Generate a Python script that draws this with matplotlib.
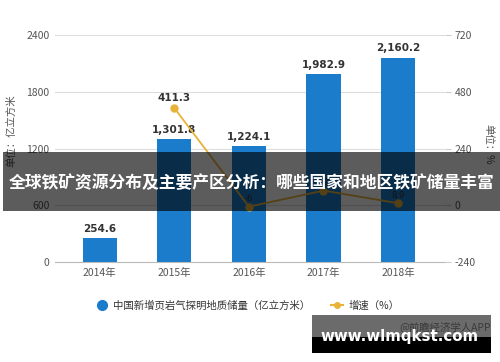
import matplotlib
matplotlib.use("Agg")
import matplotlib.pyplot as plt
from matplotlib.patches import Rectangle
from matplotlib.lines import Line2D

plt.rcParams['font.family'] = ['Noto Sans CJK SC', 'DejaVu Sans']

years = ["2014年", "2015年", "2016年", "2017年", "2018年"]
reserves = [254.6, 1301.8, 1224.1, 1982.9, 2160.2]
reserve_labels = ["254.6", "1,301.8", "1,224.1", "1,982.9", "2,160.2"]
growth_years = [1, 2, 3, 4]
growth = [411.3, -6.0, 62.0, 8.9]
growth_labels = ["411.3", "-6", "62", "8.9"]
left_ticks = [0, 600, 1200, 1800, 2400]
right_ticks = [-240, 0, 240, 480, 720]

bar_color = "#1a7ccb"
line_color = "#e8b339"
text_color = "#333333"
tick_color = "#555555"

fig = plt.figure(figsize=(5.0, 3.62), dpi=100)
ax = fig.add_axes([0.11, 0.2762, 0.78, 0.6271])
ax2 = ax.twinx()

x = list(range(len(years)))
ax.bar(x, reserves, width=0.46, color=bar_color, zorder=2)
ax.set_xlim(-0.6, 4.63)
ax.set_ylim(0, 2400)
ax.set_yticks(left_ticks)
ax.set_yticklabels([str(v) for v in left_ticks])
ax.set_xticks(x)
ax.set_xticklabels(years)
ax.grid(axis='y', color='#dddddd', linewidth=0.8, zorder=0)
ax.set_axisbelow(True)
for s in ['top', 'right', 'left']:
    ax.spines[s].set_visible(False)
ax.spines['bottom'].set_color('#bbbbbb')
ax.tick_params(axis='y', length=0, pad=4, labelsize=7.5, labelcolor=tick_color)
ax.tick_params(axis='x', length=0, pad=4, labelsize=7.5, labelcolor=tick_color)

for xi, v, lab in zip(x, reserves, reserve_labels):
    ax.text(xi, v + 45, lab, ha='center', va='bottom', fontsize=7.5,
            fontweight='bold', color=text_color, family=['DejaVu Sans'])

ax2.plot(growth_years, growth, color=line_color, linewidth=1.3, marker='o',
         markersize=5, zorder=3)
ax2.set_ylim(-240, 720)
ax2.set_yticks(right_ticks)
ax2.set_yticklabels([str(v) for v in right_ticks])
for s in ['top', 'right', 'left', 'bottom']:
    ax2.spines[s].set_visible(False)
ax2.tick_params(axis='y', length=4, color='#cccccc', pad=3, labelsize=7.5,
                labelcolor=tick_color)
ax2.text(growth_years[0], growth[0] + 22, growth_labels[0], ha='center',
         va='bottom', fontsize=7.5, fontweight='bold', color=text_color,
         family=['DejaVu Sans'])
for gx, gv, gl in zip(growth_years[1:], growth[1:], growth_labels[1:]):
    ax2.text(gx, gv + 14, gl, ha='center', va='bottom', fontsize=6,
             color=text_color, family=['DejaVu Sans'])

fig.text(0.022, 0.64, "单位：亿立方米", rotation=90, ha='center', va='center',
         fontsize=7.5, color=tick_color)
fig.text(0.976, 0.60, "单位：%", rotation=-90, ha='center', va='center',
         fontsize=7.5, color=tick_color)

handles = [
    Line2D([0], [0], marker='o', color='none', markerfacecolor=bar_color,
           markeredgecolor=bar_color, markersize=7),
    Line2D([0], [0], color=line_color, marker='o', markersize=4, linewidth=1.5),
]
fig.legend(handles, ["中国新增页岩气探明地质储量（亿立方米）", "增速（%）"],
           loc='center', bbox_to_anchor=(0.495, 0.155), ncol=2, frameon=False,
           fontsize=7.5, handlelength=1.2, handletextpad=0.5, columnspacing=2.0,
           labelcolor=text_color)

# title banner overlay
fig.patches.append(Rectangle((0.006, 0.417), 0.994, 0.163, transform=fig.transFigure,
                             facecolor='black', alpha=0.64, edgecolor='none', zorder=10))
fig.text(0.503, 0.494, "全球铁矿资源分布及主要产区分析：哪些国家和地区铁矿储量丰富",
         ha='center', va='center', fontsize=12.1, fontweight='bold', color='white',
         zorder=11)

# bottom watermark box
fig.patches.append(Rectangle((0.624, 0.069), 0.358, 0.061, transform=fig.transFigure,
                             facecolor='#6b6b6b', edgecolor='none', zorder=10))
fig.patches.append(Rectangle((0.624, 0.025), 0.358, 0.044, transform=fig.transFigure,
                             facecolor='black', edgecolor='none', zorder=10))
fig.text(0.982, 0.099, "@前瞻经济学人APP", ha='right', va='center', fontsize=7.5,
         color='#3a3a3a', zorder=11)
fig.text(0.80, 0.071, "www.wlmqkst.com", ha='center', va='center', fontsize=10.8,
         fontweight='bold', color='white', zorder=12, family=['DejaVu Sans'])

fig.savefig("out.png", dpi=100)
